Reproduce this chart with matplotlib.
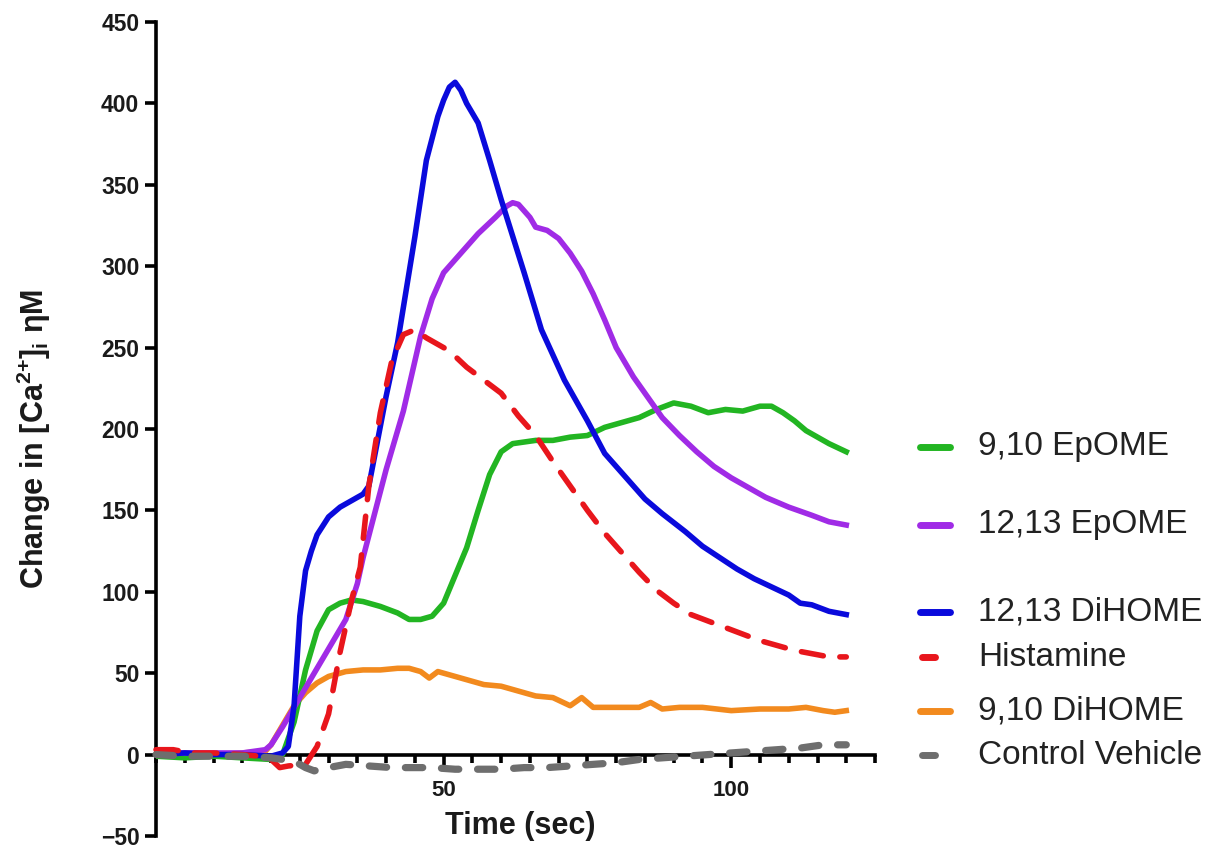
"""
Calcium response traces: change in [Ca2+]i after application of
EpOMEs / DiHOMEs, histamine and vehicle control.
"""

import matplotlib
matplotlib.use('Agg')
import matplotlib.pyplot as plt
from matplotlib.lines import Line2D
from matplotlib.ticker import MultipleLocator

plt.rcParams['font.family'] = ['Liberation Sans', 'DejaVu Sans']
plt.rcParams['mathtext.fontset'] = 'custom'
plt.rcParams['mathtext.rm'] = 'Liberation Sans:bold'
plt.rcParams['mathtext.it'] = 'Liberation Sans:bold'
plt.rcParams['mathtext.bf'] = 'Liberation Sans:bold'
plt.rcParams['mathtext.default'] = 'rm'

# --- traces (time in sec, change in nM) ---
t_epome910 = [0, 5, 10, 15, 20, 22, 24, 26, 28, 30, 32, 34, 36, 39, 42, 44, 46, 48,
              50, 52, 54, 56, 58, 60, 62, 64, 66, 69, 72, 75, 78, 81, 84, 87, 90,
              93, 96, 99, 102, 105, 107, 109, 111, 113, 115, 117, 120]
y_epome910 = [-1, -2, -1, -2, -3, 0, 20, 52, 76, 89, 93, 95, 94, 91, 87, 83, 83, 85,
              93, 110, 127, 150, 172, 186, 191, 192, 193, 193, 195, 196, 201, 204, 207, 212, 216,
              214, 210, 212, 211, 214, 214, 210, 205, 199, 195, 191, 186]

t_epome1213 = [0, 5, 10, 15, 19, 20, 22, 25, 28, 31, 33, 35, 36, 38, 40, 43, 46, 48,
               50, 53, 56, 59, 61, 62, 63, 65, 66, 68, 70, 72, 74, 76, 78, 80, 83,
               85, 88, 91, 94, 97, 100, 103, 106, 110, 114, 117, 120]
y_epome1213 = [0, 1, 1, 1, 3, 6, 17, 35, 53, 71, 83, 105, 121, 148, 175, 211, 257, 280,
               296, 308, 320, 330, 337, 339, 338, 330, 324, 322, 317, 308, 297, 283, 267, 250, 232,
               222, 207, 196, 186, 177, 170, 164, 158, 152, 147, 143, 141]

t_dihome1213 = [0, 5, 10, 15, 20, 22, 23, 24, 25, 26, 27, 28, 30, 32, 34, 36, 37, 40,
                42, 45, 47, 49, 50, 51, 52, 53, 54, 56, 58, 60, 64, 67, 71, 75, 78,
                82, 85, 88, 92, 95, 98, 101, 104, 107, 110, 112, 114, 117, 120]
y_dihome1213 = [0, 1, 0, 0, -1, 1, 5, 30, 85, 113, 125, 135, 146, 152, 156, 160, 165, 220,
                253, 318, 365, 392, 402, 410, 413, 408, 400, 388, 365, 341, 296, 261, 230, 205, 185,
                169, 157, 148, 137, 128, 121, 114, 108, 103, 98, 93, 92, 88, 86]

t_histamine = [0, 3, 6, 10, 15, 18, 20, 21.5, 23, 26, 28, 30, 32, 34, 35.5, 37, 39, 41,
               43, 45, 47, 51, 54, 57, 60, 63, 66, 69, 72, 75, 78, 81, 84, 87, 90,
               93, 96, 99, 102, 105, 108, 111, 114, 117, 120]
y_histamine = [3, 3, 1, 1, 0, -1, -3, -8, -7, -6, 5, 25, 63, 95, 115, 165, 210, 242,
               258, 261, 256, 248, 238, 230, 222, 208, 196, 180, 165, 150, 136, 124, 112, 101, 93,
               86, 82, 78, 74, 70, 67, 64, 62, 60, 60]

t_dihome910 = [0, 5, 10, 15, 19, 20, 22, 24, 26, 28, 30, 33, 36, 39, 42, 44, 46, 47.5,
               49, 51, 54, 57, 60, 63, 66, 69, 72, 74, 76, 80, 84, 86, 88, 91, 95,
               100, 105, 110, 113, 116, 118, 120]
y_dihome910 = [0, 1, 0, 1, 2, 6, 18, 30, 38, 44, 48, 51, 52, 52, 53, 53, 51, 47,
               51, 49, 46, 43, 42, 39, 36, 35, 30, 35, 29, 29, 29, 32, 28, 29, 29,
               27, 28, 28, 29, 27, 26, 27]

t_vehicle = [0, 5, 10, 15, 20, 22, 24, 26, 27.5, 30, 33, 37, 41, 45, 48, 52, 56, 60,
             64, 68, 72, 76, 80, 84, 88, 92, 96, 100, 104, 108, 112, 116, 120]
y_vehicle = [0, -1, -1, -1, -2, -3, -4, -8, -10, -8, -6, -7, -8, -8, -8, -9, -9, -9,
             -8, -8, -7, -6, -5, -3, -2, -1, 0, 1, 2, 3, 4, 6, 6]

labels = ['9,10 EpOME', '12,13 EpOME', '12,13 DiHOME', 'Histamine',
          '9,10 DiHOME', 'Control Vehicle']

GREEN = '#22B522'
PURPLE = '#A02BE6'
BLUE = '#0A0ADC'
RED = '#E8161C'
ORANGE = '#F28A1E'
GREY = '#6E6E6E'

fig = plt.figure(figsize=(12.16, 8.5), dpi=100)
ax = fig.add_axes([0.1283, 0.0165, 0.5913, 0.9576])

lw = 4.0
ax.plot(t_dihome910, y_dihome910, color=ORANGE, lw=lw, zorder=3)
ax.plot(t_epome910, y_epome910, color=GREEN, lw=lw, zorder=4)
ax.plot(t_epome1213, y_epome1213, color=PURPLE, lw=lw, zorder=5)
ax.plot(t_dihome1213, y_dihome1213, color=BLUE, lw=lw, zorder=6)
ax.plot(t_histamine, y_histamine, color=RED, lw=lw, dashes=(4.0, 3.0),
        dash_capstyle='round', zorder=7, clip_on=False)
ax.plot(t_vehicle, y_vehicle, color=GREY, lw=5.2, dashes=(2.4, 2.6),
        dash_capstyle='round', zorder=8, clip_on=False)

# axes styling (Prism-like: x axis sits at y = 0)
ax.set_xlim(0, 125)
ax.set_ylim(-50, 450)
ax.spines['top'].set_visible(False)
ax.spines['right'].set_visible(False)
ax.spines['bottom'].set_position(('data', 0))
for side in ['left', 'bottom']:
    ax.spines[side].set_linewidth(2.6)
    ax.spines[side].set_zorder(2)

ax.set_xticks([50, 100])
ax.xaxis.set_minor_locator(MultipleLocator(5))
ax.yaxis.set_major_locator(MultipleLocator(50))
ax.tick_params(axis='x', which='major', length=9, width=2.6, direction='out',
               labelsize=16, pad=9)
ax.tick_params(axis='x', which='minor', length=6, width=2.6, direction='out')
ax.tick_params(axis='y', which='major', length=8, width=2.6, direction='out',
               labelsize=16.5, pad=4)
for lab in ax.get_xticklabels() + ax.get_yticklabels():
    lab.set_fontweight('bold')
    lab.set_color('#1a1a1a')

fig.text(520 / 1216, 1 - 826 / 850, 'Time (sec)', ha='center', va='center',
         fontsize=22, fontweight='bold', color='#1a1a1a')
fig.text(34 / 1216, 1 - 439 / 850, r'Change in [Ca$^{2{+}}$]$_{i}$ ηM',
         rotation=90, ha='center', va='center', fontsize=22, fontweight='bold',
         color='#1a1a1a')

# legend drawn by hand to keep its uneven spacing
legend_rows = [
    (labels[0], GREEN, 447, 950),
    (labels[1], PURPLE, 525, 950),
    (labels[2], BLUE, 612, 950),
    (labels[3], RED, 657, 935),
    (labels[4], ORANGE, 711, 950),
    (labels[5], GREY, 755, 935),
]
for text, color, ypx, x_end in legend_rows:
    yf = 1 - ypx / 850
    x0 = 920 if x_end == 950 else 922
    fig.add_artist(Line2D([x0 / 1216, x_end / 1216], [yf, yf], color=color,
                          lw=5, solid_capstyle='round', transform=fig.transFigure))
    fig.text(978 / 1216, yf, text, ha='left', va='center', fontsize=24,
             color='#222222')

plt.savefig('out.png', dpi=100)
plt.close()
